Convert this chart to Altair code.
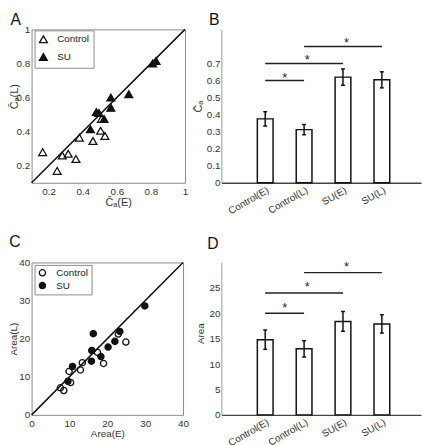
import json
import pandas as pd
import altair as alt

FONT = "Liberation Sans"
TXT = "#333333"
INK = "#111111"

groups = ["Control", "SU"]
letters = ["A", "B", "C", "D"]

# ---- Panel A: C_a early (E) vs late (L) ----
a_ctrl_e = [0.165, 0.25, 0.28, 0.315, 0.36, 0.38, 0.46, 0.505, 0.53, 0.51]
a_ctrl_l = [0.28, 0.17, 0.26, 0.27, 0.24, 0.365, 0.345, 0.405, 0.375, 0.475]
a_su_e = [0.445, 0.48, 0.495, 0.525, 0.565, 0.565, 0.67, 0.81, 0.83]
a_su_l = [0.415, 0.515, 0.51, 0.475, 0.54, 0.60, 0.62, 0.80, 0.815]
a_domain = [0.1, 1.0]
a_ticks = [0.2, 0.4, 0.6, 0.8, 1.0]

# ---- Panel C: Area early (E) vs late (L) ----
c_ctrl_e = [7.6, 8.5, 9.9, 10.3, 12.9, 13.4, 17.4, 19.0, 22.9, 24.9]
c_ctrl_l = [7.1, 6.4, 11.4, 8.5, 11.8, 13.7, 16.4, 13.5, 21.2, 19.1]
c_su_e = [9.6, 10.8, 15.8, 15.9, 16.3, 18.3, 20.2, 22.0, 23.3, 29.9]
c_su_l = [8.8, 12.7, 14.1, 16.9, 21.3, 15.3, 17.8, 19.3, 21.9, 28.6]
c_domain = [0, 40]
c_ticks = [0, 10, 20, 30, 40]

# ---- Panels B / D: bar charts ----
categories = ["Control(E)", "Control(L)", "SU(E)", "SU(L)"]
b_mean = [0.375, 0.312, 0.62, 0.604]
b_err = [0.042, 0.03, 0.048, 0.047]
b_ticks = [0, 0.1, 0.2, 0.3, 0.4, 0.5, 0.6, 0.7]
b_ymax = 0.9
d_mean = [14.8, 13.0, 18.4, 17.9]
d_err = [1.9, 1.6, 1.95, 1.8]
d_ticks = [0, 5, 10, 15, 20, 25]
d_ymax = 30

sig_from = ["Control(E)", "Control(E)", "Control(L)"]
sig_to = ["Control(L)", "SU(E)", "SU(L)"]
b_sig_y = [0.6, 0.7, 0.8]
d_sig_y = [20, 24, 28]
star_pos = [1.5, 2.08, 3.09]

CE = "C\u0304\u2090"


def letter_layer(letter, lx, ly):
    return alt.Chart(pd.DataFrame({"t": [letter]})).mark_text(
        align="left", baseline="top", font=FONT, fontSize=16, color=INK
    ).encode(text="t:N", x=alt.value(lx), y=alt.value(ly))


def scatter(cx, cy, sx, sy, domain, ticks, shape, size, xtitle, ytitle,
            letter, xkw, ykw, lxy, legkw, title_size):
    df = pd.DataFrame({
        "e": cx + sx,
        "l": cy + sy,
        "group": [groups[0]] * len(cx) + [groups[1]] * len(sx),
    })
    xs = alt.Scale(domain=domain, nice=False, zero=False)
    ys = alt.Scale(domain=domain, nice=False, zero=False)
    xax = alt.Axis(values=ticks, format="~r", title=xtitle, domain=False, ticks=False,
                   tickSize=0, grid=False, labelPadding=4, labelFlush=False,
                   labelOverlap=False, titleBaseline="top", titleFontSize=title_size, **xkw)
    yax = alt.Axis(values=ticks, format="~r", title=ytitle, domain=False, ticks=False,
                   tickSize=0, grid=False, labelPadding=2, labelFlush=False,
                   labelOverlap=False, titleFontSize=title_size, **ykw)
    diag_df = pd.DataFrame({"e": [domain[0]], "l": [domain[0]],
                            "e2": [domain[1]], "l2": [domain[1]]})
    diag = alt.Chart(diag_df).mark_rule(color=INK, strokeWidth=1.5).encode(
        x=alt.X("e:Q", scale=xs, axis=xax), y=alt.Y("l:Q", scale=ys, axis=yax),
        x2="e2:Q", y2="l2:Q")
    leg = alt.Legend(title=None, orient="none", symbolStrokeWidth=1.3, **legkw)
    pts = alt.Chart(df).mark_point(
        filled=True, strokeWidth=1.3, size=size, opacity=1
    ).encode(
        x=alt.X("e:Q", scale=xs, axis=xax),
        y=alt.Y("l:Q", scale=ys, axis=yax),
        fill=alt.Fill("group:N", scale=alt.Scale(domain=groups, range=["transparent", INK]),
                      legend=leg),
        stroke=alt.Stroke("group:N", scale=alt.Scale(domain=groups, range=[INK, INK]),
                          legend=leg),
        shape=alt.Shape("group:N", scale=alt.Scale(domain=groups, range=[shape, shape]),
                        legend=leg),
    )
    return [diag, pts, letter_layer(letter, *lxy)]


def bars(means, errs, ymax, yticks, ytitle, letter, w, h, sig_y, star_dy, ykw, lxy, title_size):
    pos = list(range(1, len(categories) + 1))
    df = pd.DataFrame({"pos": pos, "cat": categories, "m": means, "err": errs})
    xs = alt.Scale(domain=[0, 4.88], nice=False, zero=False)
    ys = alt.Scale(domain=[0, ymax], nice=False, zero=True)
    label_expr = json.dumps(categories) + "[round(datum.value) - 1]"
    xax = alt.Axis(values=pos, labelExpr=label_expr, labelAngle=330, labelAlign="right",
                   labelBaseline="top", labelPadding=2, title=None, domainColor="#444444",
                   domainWidth=1.5, ticks=False, tickSize=0, grid=False, labelFlush=False,
                   labelOverlap=False)
    yax = alt.Axis(values=yticks, format="~r", title=ytitle, domainColor="#9a9a9a",
                   domainWidth=1, ticks=False, tickSize=0, grid=False, labelPadding=1.5,
                   labelFlush=False, labelOverlap=False, titleFontSize=title_size, **ykw)
    base = alt.Chart(df)
    bar = base.mark_bar(orient="vertical", size=16, fill="white", stroke=INK,
                        strokeWidth=1.5).encode(
        x=alt.X("pos:Q", scale=xs, axis=xax), y=alt.Y("m:Q", scale=ys, axis=yax))
    eb = base.transform_calculate(
        lo="datum.m - datum.err", hi="datum.m + datum.err",
        cl="datum.pos - 0.05", cr="datum.pos + 0.05")
    whisk = eb.mark_rule(color=INK, strokeWidth=1.5).encode(
        x=alt.X("pos:Q", scale=xs, axis=xax), y=alt.Y("lo:Q", scale=ys, axis=yax), y2="hi:Q")
    cap_lo = eb.mark_rule(color=INK, strokeWidth=1.5).encode(
        x=alt.X("cl:Q", scale=xs, axis=xax), x2="cr:Q", y=alt.Y("lo:Q", scale=ys, axis=yax))
    cap_hi = eb.mark_rule(color=INK, strokeWidth=1.5).encode(
        x=alt.X("cl:Q", scale=xs, axis=xax), x2="cr:Q", y=alt.Y("hi:Q", scale=ys, axis=yax))
    sdf = pd.DataFrame({
        "a": [categories.index(c) + 1 for c in sig_from],
        "b": [categories.index(c) + 1 for c in sig_to],
        "y": sig_y,
        "sx": star_pos,
    })
    sig = alt.Chart(sdf).mark_rule(color="#222222", strokeWidth=1.5).encode(
        x=alt.X("a:Q", scale=xs, axis=xax), x2="b:Q", y=alt.Y("y:Q", scale=ys, axis=yax))
    star = alt.Chart(sdf).mark_text(text="*", font=FONT, fontSize=13, baseline="alphabetic",
                                    dy=star_dy, color="#222222").encode(
        x=alt.X("sx:Q", scale=xs, axis=xax), y=alt.Y("y:Q", scale=ys, axis=yax))
    return alt.layer(bar, whisk, cap_lo, cap_hi, sig, star, letter_layer(letter, *lxy)).properties(
        width=w, height=h)


anchor = alt.Chart(pd.DataFrame({"t": [0]})).mark_rule(opacity=0).encode(
    x=alt.value(-23.5), x2=alt.value(-23.5), y=alt.value(-17), y2=alt.value(-12))

BOX = alt.ViewBackground(stroke="#8a8a8a", strokeWidth=1)

a_layers = scatter(a_ctrl_e, a_ctrl_l, a_su_e, a_su_l, a_domain, a_ticks, "triangle-up", 64,
                   CE + "(E)", CE + "(L)", letters[0],
                   dict(titleX=88, titleY=14), dict(titleX=-12.5, titleY=68), (-21.5, -17),
                   dict(legendX=3, legendY=1, padding=4, rowPadding=4, labelOffset=9,
                        symbolSize=64), 11)
panel_a = alt.layer(anchor, *a_layers).properties(width=156, height=156, view=BOX)

panel_b = bars(b_mean, b_err, b_ymax, b_ticks, CE, letters[1], 203, 156, b_sig_y, 1,
               dict(titleX=-18), (-12.6, -17), 11)

c_layers = scatter(c_ctrl_e, c_ctrl_l, c_su_e, c_su_l, c_domain, c_ticks, "circle", 40,
                   "Area(E)", "Area(L)", letters[2],
                   dict(titleY=14), dict(titleX=-13.5), (-22.7, -29),
                   dict(legendX=3, legendY=2.5, padding=3, rowPadding=1, labelOffset=9,
                        symbolSize=40), 10)
panel_c = alt.layer(*c_layers).properties(width=154, height=155, view=BOX)

panel_d = bars(d_mean, d_err, d_ymax, d_ticks, "Area", letters[3], 203, 155, d_sig_y, -1.5,
               dict(titleX=-16, titleY=72), (-14.3, -27), 10)

chart = alt.concat(
    panel_a, panel_b, panel_c, panel_d,
    columns=2, spacing={"row": 81, "column": 37}, bounds="flush", align="each",
).resolve_scale(
    fill="independent", stroke="independent", shape="independent"
).resolve_legend(
    fill="independent", stroke="independent", shape="independent"
).properties(padding=0).configure(font=FONT).configure_view(stroke="transparent").configure_axis(
    labelFont=FONT, titleFont=FONT, labelFontSize=10, titleFontSize=10,
    labelColor=TXT, titleColor=TXT, titleFontWeight="normal",
).configure_legend(
    labelFont=FONT, labelFontSize=10, labelColor="#222222", strokeColor="#8a8a8a",
    fillColor="white", cornerRadius=0,
)

chart.save("out.html", embed_options={"renderer": "svg", "actions": False})
